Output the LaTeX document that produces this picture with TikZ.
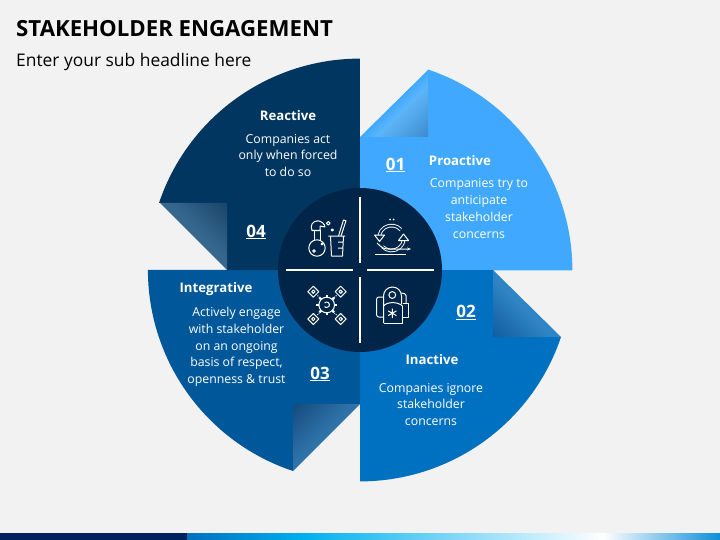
\documentclass[tikz,border=0pt]{standalone}
\usepackage{fontspec}
\setmainfont{Open Sans}
\usetikzlibrary{positioning, arrows.meta}
\definecolor{PageGrey}{HTML}{F2F2F2}
\definecolor{Proactive}{HTML}{40A9FF}
\definecolor{Inactive}{HTML}{0070C0}
\definecolor{Integrative}{HTML}{00589B}
\definecolor{Reactive}{HTML}{003660}
\definecolor{Hub}{HTML}{002549}
\definecolor{BarNavy}{HTML}{002060}
\definecolor{FoldOneA}{HTML}{5CB5F8}
\definecolor{FoldOneB}{HTML}{3A8ACC}
\definecolor{FoldTwoA}{HTML}{2F85C4}
\definecolor{FoldTwoB}{HTML}{115C9E}
\definecolor{FoldThreeA}{HTML}{2F72A8}
\definecolor{FoldThreeB}{HTML}{144A7C}
\definecolor{FoldFourA}{HTML}{36688F}
\definecolor{FoldFourB}{HTML}{1A4468}
\pgfdeclareverticalshading{foldone}{100bp}{color(0bp)=(Proactive); color(50bp)=(Proactive); color(58bp)=(FoldOneA); color(86bp)=(FoldOneB); color(100bp)=(FoldOneB)}
\pgfdeclareverticalshading{foldtwo}{100bp}{color(0bp)=(FoldTwoA); color(54bp)=(FoldTwoA); color(86bp)=(FoldTwoB); color(100bp)=(FoldTwoB)}
\pgfdeclareverticalshading{foldthree}{100bp}{color(0bp)=(FoldThreeA); color(54bp)=(FoldThreeA); color(86bp)=(FoldThreeB); color(100bp)=(FoldThreeB)}
\pgfdeclareverticalshading{foldfour}{100bp}{color(0bp)=(FoldFourA); color(54bp)=(FoldFourA); color(86bp)=(FoldFourB); color(100bp)=(FoldFourB)}
\pgfdeclarehorizontalshading{barshade}{100bp}{rgb(0bp)=(0,0.44,0.75); rgb(25bp)=(0,0.44,0.75); rgb(36bp)=(0,0.69,0.94); rgb(64bp)=(1,1,1); rgb(75bp)=(0.05,0.56,0.85); rgb(100bp)=(0.05,0.56,0.85)}

\begin{document}
\begin{tikzpicture}[
    x=1pt, y=-1pt,
    title/.style={anchor=west, inner sep=0pt, font=\fontsize{22.2}{26}\selectfont\bfseries},
    head/.style={inner sep=0pt, text=white, font=\fontsize{13.2}{16}\selectfont\bfseries},
    body/.style={inner sep=0pt, text=white, align=center, font=\fontsize{12.3}{16.8}\selectfont},
    num/.style={inner sep=0pt, text=white, font=\fontsize{17}{20}\selectfont\bfseries},
    rule/.style={draw=white, line width=1.8pt},
    icon/.style={draw=white, line width=1pt, line join=round},
    band/.style={draw=white, line width=0.9pt, double=Hub, double distance=1.8pt}
]
\useasboundingbox (0,0) rectangle (720,540);
\fill[PageGrey] (0,0) rectangle (720,540);

% Headlines
\node[title] (headline) at (16,29) {STAKEHOLDER ENGAGEMENT};
\node[anchor=west, inner sep=0pt, font=\fontsize{17.4}{21}\selectfont] (subline) at (16,62) {Enter your sub headline here};

% Four petals
\fill[Proactive] (360,270) -- (360,137) -- (428,137) -- (428,69.5) arc[start angle=-71.4, end angle=0, radius=212] -- cycle;
\fill[Inactive] (360,270) -- (493,270) -- (493,337) -- (561,337) arc[start angle=18.6, end angle=90, radius=212] -- cycle;
\fill[Integrative] (360,270) -- (360,404) -- (293,404) -- (293,471) arc[start angle=108.4, end angle=180, radius=212] -- cycle;
\fill[Reactive] (360,270) -- (227,270) -- (227,203) -- (159,203) arc[start angle=198.6, end angle=270, radius=212] -- cycle;

% Curled corners
\shade[shading=foldone, shading angle=-135] (360,137) -- (428,70) -- (428,137) -- cycle;
\shade[shading=foldtwo, shading angle=135] (493,270) -- (561,337) -- (493,337) -- cycle;
\shade[shading=foldthree, shading angle=45] (360,404) -- (293,471) -- (293,404) -- cycle;
\shade[shading=foldfour, shading angle=-45] (227,270) -- (160,203) -- (227,203) -- cycle;

% Labels
\node[head] (proactive) at (460,160.5) {Proactive};
\node[body] (proactivetext) at (479,208.5) {Companies try to\\anticipate\\stakeholder\\concerns};
\node[num] (one) at (395.5,165) {\underline{01}};

\node[head] (inactive) at (432,360) {Inactive};
\node[body] (inactivetext) at (431,404.5) {Companies ignore\\stakeholder\\concerns};
\node[num] (two) at (466,312.5) {\underline{02}};

\node[head] (integrative) at (216,289.5) {Integrative};
\node[body] (integrativetext) at (236.5,347) {Actively engage\\with stakeholder\\on an ongoing\\basis of respect,\\openness \& trust};
\node[num] (three) at (320,374) {\underline{03}};

\node[head] (reactive) at (288,115.5) {Reactive};
\node[body] (reactivetext) at (288,155.5) {Companies act\\only when forced\\to do so};
\node[num] (four) at (256,232) {\underline{04}};

% Hub
\fill[Hub] (360,270) circle (82);
\draw[rule] (360,197) -- (360,263);
\draw[rule] (360,277) -- (360,343);
\draw[rule] (286,270) -- (353,270);
\draw[rule] (367,270) -- (434,270);

% Flask and beaker
\draw[icon] (317,248) circle (8.2);
\draw[icon] (314,240.5) -- (314,230.5) (320.5,240.5) -- (320.5,230.5);
\draw[icon] (312,230.5) .. controls (310,226) and (312,221) .. (318,220.8) .. controls (321,221) and (325,224) .. (325,227) -- (320,226) -- (320,230.5) -- cycle;
\draw[icon] (328.3,236) -- (345,236) (330.5,236) -- (331.5,256) -- (342.5,256) -- (343.5,236) (343,242) -- (338,242) (343,248) -- (338,248);
\draw[icon] (338.5,236) -- (343.5,220) -- (346,220.8) -- (341,236);
\draw[icon] (328.3,223.3) circle (1.8) (332.3,230) circle (1.1) (322,244) circle (1) (314,251) circle (1.3);

% Cycle
\draw[band] (391.5,238) ++(190:12.5) arc[start angle=190, end angle=318, radius=12.5];
\draw[band] (391.5,238) ++(5:12.5) arc[start angle=5, end angle=135, radius=12.5];
\filldraw[icon, fill=Hub] (374.5,235) -- (384.5,235) -- (379.5,241.5) -- cycle;
\filldraw[icon, fill=Hub] (398.5,240.5) -- (408.5,240.5) -- (403.5,234) -- cycle;
\draw[icon, -{Stealth[length=4pt]}] (377,243) .. controls (381,247) and (383,249) .. (388,249) -- (411,249);
\draw[icon] (375,254) -- (406,254);
\fill[white] (390,219.5) circle (1) (393.5,219.5) circle (1);

% Network
\draw[icon] (326.7,305) circle (7.8);
\draw[icon] (324.5,303) arc[start angle=220, end angle=500, radius=2.8];
\foreach \a in {0,45,...,315}
  \draw[icon, line width=2.4pt] (326.7,305) ++(\a:7.8) -- ++(\a:2.5);
\foreach \px/\py in {313.3/291.7, 340.7/291.7, 313.3/319, 340.7/319} {
  \draw[icon] (\px-5.5,\py) -- (\px,\py-5.5) -- (\px+5.5,\py) -- (\px,\py+5.5) -- cycle;
  \draw[icon] (\px,\py) circle (1.7);
}
\draw[icon, densely dotted] (317.5,295.5) -- (320.5,298.5) (336.5,295.5) -- (333,298.5) (317.5,315) -- (320.5,311.5) (336.5,315) -- (333,311.5);

% Suit
\draw[icon] (383.5,323) -- (383.5,296) arc[start angle=180, end angle=360, radius=9] -- (401.5,304);
\draw[icon] (383.5,323) -- (402.5,323) -- (402.5,306);
\draw[icon] (392.3,295) circle (3.4);
\draw[icon] (383.5,306) .. controls (387,301.5) and (398,301.5) .. (402.5,306);
\draw[icon, rounded corners=2pt] (383.5,297) -- (376.7,297) -- (376.7,317) -- (383.5,317);
\draw[icon, rounded corners=1.5pt] (401.5,293) -- (406,294) -- (406,303);
\draw[icon] (402.5,303) -- (408.5,303) -- (408.5,317) -- (402.5,317);
\draw[icon] (392.3,308.5) -- (392.3,318) (388.2,310.9) -- (396.4,315.6) (388.2,315.6) -- (396.4,310.9);

% Footer
\fill[BarNavy] (0,533) rectangle (187,540);
\shade[shading=barshade] (187,533) rectangle (720,540);
\end{tikzpicture}
\end{document}
